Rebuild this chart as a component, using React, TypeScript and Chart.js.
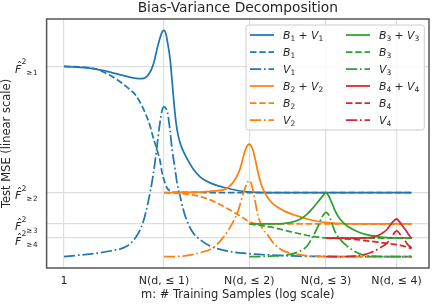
import { useEffect, useRef } from "react";
import { Chart, registerables } from "chart.js";
Chart.register(...registerables);

const FONT = "'DejaVu Sans', sans-serif";
const TEXT = "#262626";

const chartTitle = "Bias-Variance Decomposition";
const xTickValues = [1, 101, 5151, 176851, 4598126];
const xTickLabels = ["1", "N(d, ≤ 1)", "N(d, ≤ 2)", "N(d, ≤ 3)", "N(d, ≤ 4)"];
const yTickValues = [1.0, 0.338, 0.174, 0.1];
const yTickSubs = ["≥ 1", "≥ 2", "≥ 3", "≥ 4"];

// Series 1 (blue)
const bv1X = [1, 3.81, 8.36, 18.3, 27.7, 36.6, 48.3, 60.8, 76.6, 92.1, 101, 110.8, 118.7, 133.2, 146.1, 160.2, 175.7, 192.7, 211.3, 242.7, 292, 385, 532, 844, 1849, 4656, 13455, 9196000];
const bv1Y = [1.0, 0.988, 0.970, 0.947, 0.937, 0.935, 0.953, 1.005, 1.111, 1.179, 1.189, 1.168, 1.126, 1.042, 0.926, 0.805, 0.705, 0.642, 0.6, 0.558, 0.516, 0.463, 0.421, 0.389, 0.361, 0.342, 0.338, 0.338];
const b1X = [1, 3.81, 8.36, 18.3, 27.7, 33.4, 42.0, 52.9, 60.8, 72.1, 84.0, 92.1, 101, 114.4, 133.2, 167.8, 9196000];
const b1Y = [1.0, 0.989, 0.953, 0.891, 0.847, 0.812, 0.758, 0.689, 0.63, 0.568, 0.505, 0.444, 0.405, 0.365, 0.347, 0.339, 0.338];
const v1X = [1, 2.09, 3.81, 8.36, 18.3, 27.7, 38.3, 48.3, 60.8, 72.1, 84.0, 92.1, 101, 110.8, 118.7, 133.2, 146.1, 167.8, 184.1, 211.3, 242.7, 292, 385, 532, 844, 1849, 4656, 13455, 53700, 340200, 9196000];
const v1Y = [0.002, 0.011, 0.018, 0.032, 0.058, 0.105, 0.181, 0.286, 0.426, 0.568, 0.707, 0.768, 0.787, 0.779, 0.758, 0.663, 0.568, 0.463, 0.389, 0.321, 0.253, 0.189, 0.128, 0.092, 0.058, 0.032, 0.019, 0.011, 0.005, 0.003, 0.002];

// Series 2 (orange)
const bv2X = [101, 211.3, 532, 1063, 1849, 2802, 3370, 3870, 4245, 4656, 5151, 5598, 6138, 6730, 7727, 9301, 11717, 15452, 24500, 46770, 97880, 214500, 856500, 9196000];
const bv2Y = [0.338, 0.339, 0.341, 0.347, 0.361, 0.416, 0.463, 0.521, 0.558, 0.582, 0.592, 0.584, 0.558, 0.516, 0.442, 0.368, 0.316, 0.279, 0.245, 0.216, 0.192, 0.179, 0.174, 0.174];
const b2X = [101, 211.3, 532, 1063, 2124, 3370, 4656, 6138, 8472, 9196000];
const b2Y = [0.338, 0.334, 0.318, 0.289, 0.247, 0.216, 0.192, 0.179, 0.174, 0.174];
const v2X = [101, 242.7, 532, 969, 1538, 2297, 3073, 3870, 4656, 5151, 5598, 6138, 6730, 7727, 8472, 9301, 11717, 15452, 24500, 46770, 97880, 856500, 9196000];
const v2Y = [0.002, 0.005, 0.023, 0.049, 0.102, 0.172, 0.242, 0.330, 0.389, 0.400, 0.389, 0.347, 0.295, 0.216, 0.184, 0.153, 0.121, 0.075, 0.034, 0.014, 0.005, 0.002, 0.002];

// Series 3 (green)
const bv3X = [5151, 15452, 33860, 53700, 74220, 97880, 135200, 158900, 176851, 195500, 214500, 246400, 270200, 340200, 470000, 856500, 1561000, 2977000, 9196000];
const bv3Y = [0.174, 0.174, 0.181, 0.198, 0.225, 0.259, 0.304, 0.326, 0.338, 0.326, 0.304, 0.268, 0.242, 0.198, 0.163, 0.128, 0.111, 0.102, 0.100];
const b3X = [5151, 13455, 33860, 67700, 123300, 176851, 340200, 9196000];
const b3Y = [0.174, 0.158, 0.134, 0.116, 0.105, 0.101, 0.100, 0.100];
const v3X = [5151, 13455, 33860, 53700, 74220, 97880, 123300, 148300, 176851, 195500, 214500, 246400, 270200, 340200, 470000, 745600, 1359000, 9196000];
const v3Y = [0.002, 0.005, 0.014, 0.032, 0.058, 0.111, 0.163, 0.211, 0.234, 0.226, 0.205, 0.158, 0.132, 0.093, 0.058, 0.023, 0.005, 0.002];

// Series 4 (red)
const bv4X = [176851, 620000, 1359000, 2156000, 2977000, 3750000, 4112000, 4598126, 4951000, 5428000, 6234000, 6837000, 7852000, 9196000];
const bv4Y = [0.100, 0.100, 0.102, 0.119, 0.146, 0.181, 0.192, 0.200, 0.192, 0.181, 0.158, 0.146, 0.121, 0.098];
const b4X = [176851, 620000, 1359000, 2977000, 4598126, 5428000, 9196000];
const b4Y = [0.100, 0.093, 0.084, 0.072, 0.065, 0.062, 0.046];
const v4X = [176851, 620000, 1359000, 2156000, 2977000, 3750000, 4112000, 4598126, 4951000, 5428000, 6837000, 7852000, 9196000];
const v4Y = [0.002, 0.005, 0.023, 0.049, 0.075, 0.111, 0.126, 0.137, 0.132, 0.119, 0.084, 0.063, 0.049];

const colors = ["#1f77b4", "#ff7f0e", "#2ca02c", "#d62728"];
const seriesData = [
  [[bv1X, bv1Y], [b1X, b1Y], [v1X, v1Y]],
  [[bv2X, bv2Y], [b2X, b2Y], [v2X, v2Y]],
  [[bv3X, bv3Y], [b3X, b3Y], [v3X, v3Y]],
  [[bv4X, bv4Y], [b4X, b4Y], [v4X, v4Y]],
];

const LW = 1.75;
const styles = [
  [] as number[],
  [3.7 * LW, 1.6 * LW],
  [6.4 * LW, 1.6 * LW, 1 * LW, 1.6 * LW],
];
const kinds = ["BV", "B", "V"];

type Part = { t: string; size: number; italic?: boolean; dy?: number };

function drawParts(ctx: CanvasRenderingContext2D, parts: Part[], x: number, y: number) {
  let cx = x;
  for (const p of parts) {
    ctx.font = `${p.italic ? "italic " : ""}${p.size}px ${FONT}`;
    ctx.fillText(p.t, cx, y + (p.dy || 0));
    cx += ctx.measureText(p.t).width;
  }
  return cx - x;
}

function legendParts(kind: string, k: number): Part[] {
  const n = String(k + 1);
  const M = 10.8, S = 7.5, D = 2.6;
  if (kind === "BV")
    return [
      { t: "B", size: M, italic: true },
      { t: n, size: S, dy: D },
      { t: " + ", size: M },
      { t: "V", size: M, italic: true },
      { t: n, size: S, dy: D },
    ];
  return [
    { t: kind, size: M, italic: true },
    { t: n, size: S, dy: D },
  ];
}

const overlayPlugin = {
  id: "overlay",
  afterDatasetsDraw(chart: any) {
    const ctx: CanvasRenderingContext2D = chart.ctx;
    const a = chart.chartArea;
    ctx.save();
    // frame
    ctx.strokeStyle = "#555555";
    ctx.lineWidth = 1.5;
    ctx.strokeRect(a.left, a.top, a.right - a.left, a.bottom - a.top);

    // legend
    const bw = 178.3, bh = 105;
    const bx = a.right - 4.7 - bw, by = a.top + 6;
    ctx.beginPath();
    const r = 2.5;
    ctx.moveTo(bx + r, by);
    ctx.arcTo(bx + bw, by, bx + bw, by + bh, r);
    ctx.arcTo(bx + bw, by + bh, bx, by + bh, r);
    ctx.arcTo(bx, by + bh, bx, by, r);
    ctx.arcTo(bx, by, bx + bw, by, r);
    ctx.closePath();
    ctx.fillStyle = "rgba(255,255,255,0.8)";
    ctx.fill();
    ctx.strokeStyle = "#cccccc";
    ctx.lineWidth = 1;
    ctx.stroke();

    ctx.textBaseline = "alphabetic";
    ctx.textAlign = "left";
    for (let k = 0; k < 4; k++) {
      for (let j = 0; j < 3; j++) {
        const col = k < 2 ? 0 : 1;
        const row = (k % 2) * 3 + j;
        const lx = bx + 4 + col * 96;
        const ly = by + 10 + row * 17;
        ctx.beginPath();
        ctx.strokeStyle = colors[k];
        ctx.lineWidth = LW;
        ctx.setLineDash(styles[j]);
        ctx.moveTo(lx, ly);
        ctx.lineTo(lx + 24, ly);
        ctx.stroke();
        ctx.setLineDash([]);
        ctx.fillStyle = TEXT;
        drawParts(ctx, legendParts(kinds[j], k), lx + 33, ly + 3.6);
      }
    }
    ctx.restore();
  },
  afterDraw(chart: any) {
    const ctx: CanvasRenderingContext2D = chart.ctx;
    const a = chart.chartArea;
    const ys = chart.scales.y;
    ctx.save();
    ctx.fillStyle = TEXT;
    // title centred over the axes
    ctx.textBaseline = "alphabetic";
    ctx.textAlign = "center";
    ctx.font = `13.8px ${FONT}`;
    ctx.fillText(chartTitle, (a.left + a.right) / 2, a.top - 7);

    ctx.textAlign = "left";
    yTickValues.forEach((v, i) => {
      const py = ys.getPixelForValue(v);
      const subText = yTickSubs[i].replace(" ", "\u200a");
      ctx.font = `italic 11px ${FONT}`;
      const wF = ctx.measureText("F").width;
      ctx.font = `7.7px ${FONT}`;
      const wS = ctx.measureText("2").width;
      ctx.font = `7.2px ${FONT}`;
      const wB = ctx.measureText(subText).width;
      const right = a.left - 9;
      const x0 = right - (wF + wS + wB);
      drawParts(ctx, [{ t: "F", size: 11, italic: true }], x0, py + 6.5);
      drawParts(ctx, [{ t: "\u02c6", size: 11 }], x0 + 1.6, py + 3.5);
      drawParts(ctx, [{ t: "2", size: 7.7 }], x0 + wF, py - 2);
      drawParts(ctx, [{ t: subText, size: 7.2 }], x0 + wF + wS, py + 8.8);
    });
    ctx.restore();
  },
};

export default function App() {
  const ref = useRef<HTMLCanvasElement | null>(null);
  useEffect(() => {
    if (!ref.current) return;
    const datasets: any[] = [];
    let idx = 0;
    seriesData.forEach((group, k) => {
      group.forEach(([xs, ys], j) => {
        datasets.push({
          label: `${kinds[j]}${k + 1}`,
          data: xs.map((x, i) => ({ x, y: ys[i] })),
          borderColor: colors[k],
          backgroundColor: colors[k],
          borderWidth: LW,
          borderDash: styles[j],
          pointRadius: 0,
          fill: false,
          cubicInterpolationMode: "monotone",
          order: 100 - idx,
        });
        idx++;
      });
    });
    const chart = new Chart(ref.current, {
      type: "line",
      data: { datasets },
      options: {
        animation: false,
        responsive: false,
        devicePixelRatio: 1,
        layout: { padding: { left: 0, right: 3, top: 19, bottom: 0 } },
        plugins: {
          legend: { display: false },
          tooltip: { enabled: false },
          title: { display: false },
        },
        scales: {
          x: {
            type: "logarithmic",
            min: 0.449,
            max: 2.05e7,
            afterBuildTicks: (s: any) => {
              s.ticks = xTickValues.map((v) => ({ value: v }));
            },
            afterFit: (s: any) => {
              s.height = 36;
            },
            ticks: {
              autoSkip: false,
              maxRotation: 0,
              padding: 6.4,
              color: TEXT,
              font: { family: FONT, size: 11 },
              callback: (_v: any, i: number) => xTickLabels[i],
            },
            grid: { color: "#dedede", lineWidth: 1.2, drawTicks: false },
            border: { display: false },
            title: {
              display: true,
              text: "m: # Training Samples (log scale)",
              color: TEXT,
              font: { family: FONT, size: 11.5 },
              padding: { top: 0, bottom: 1.6 },
            },
          },
          y: {
            type: "linear",
            min: -0.057,
            max: 1.248,
            afterBuildTicks: (s: any) => {
              s.ticks = yTickValues.map((v) => ({ value: v }));
            },
            afterFit: (s: any) => {
              s.width = 46.6;
            },
            ticks: { display: false },
            grid: { color: "#dedede", lineWidth: 1.2, drawTicks: false },
            border: { display: false },
            title: {
              display: true,
              text: "Test MSE (linear scale)",
              color: TEXT,
              font: { family: FONT, size: 11.5 },
              padding: { top: 0.6, bottom: 0 },
            },
          },
        },
      },
      plugins: [overlayPlugin],
    } as any);
    return () => chart.destroy();
  }, []);
  return (
    <div style={{ position: "absolute", left: 0, top: 0, width: 432, height: 304 }}>
      <canvas ref={ref} width={432} height={304} style={{ display: "block" }} />
    </div>
  );
}
